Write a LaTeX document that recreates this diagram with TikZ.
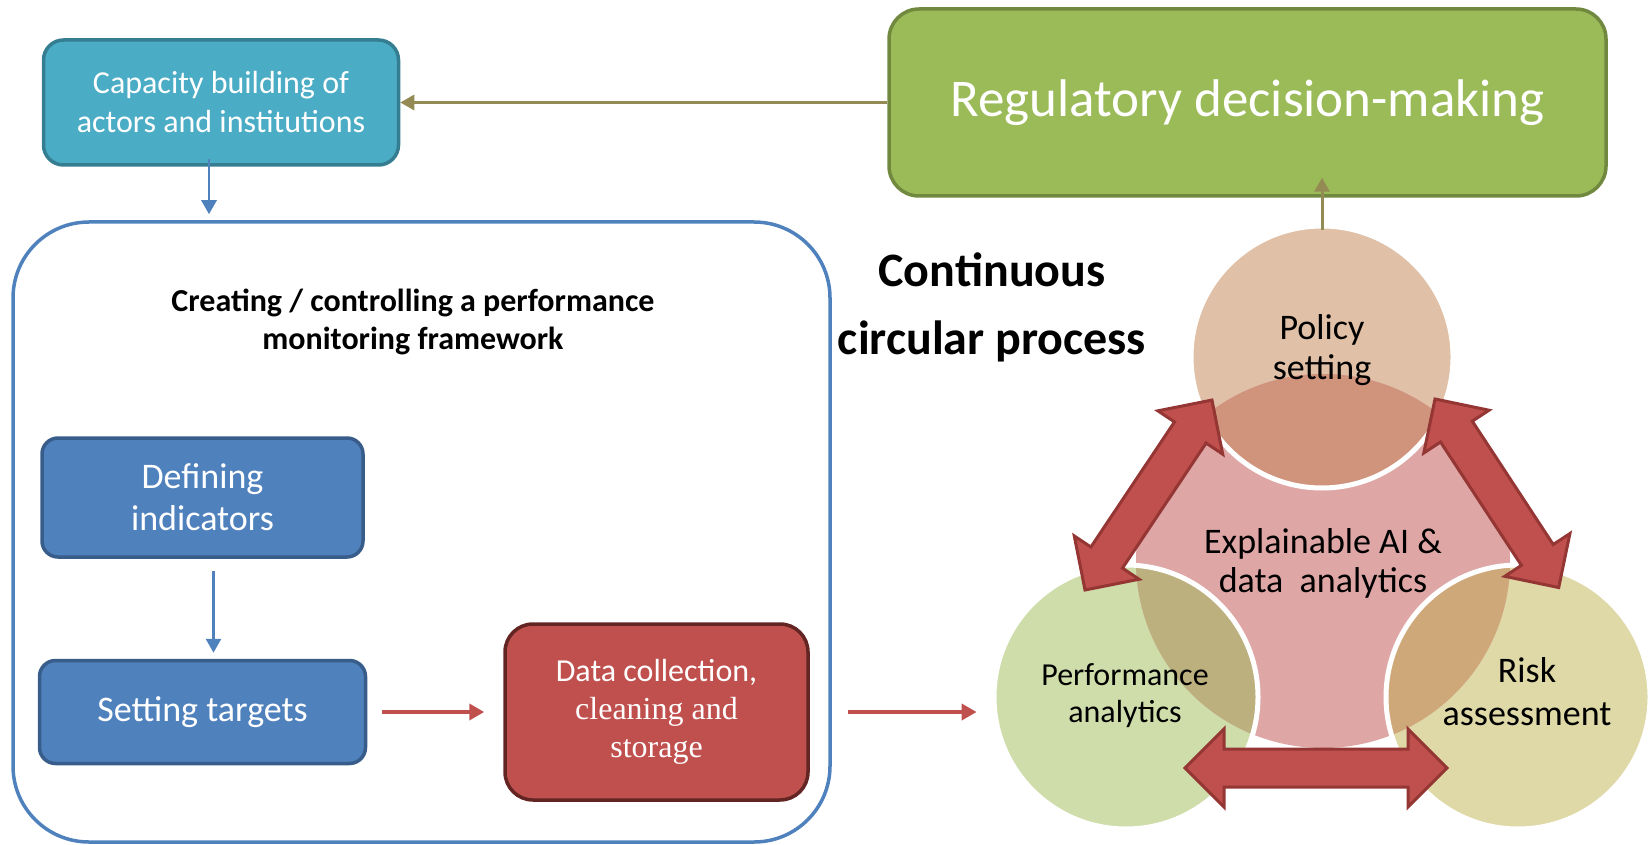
\documentclass[tikz,border=0pt]{standalone}
\usepackage{fontspec}
\setmainfont{Carlito}
\newfontfamily\timesfont{Liberation Serif}
\usetikzlibrary{arrows.meta,positioning,calc}
\definecolor{Teal}{HTML}{4BACC6}
\definecolor{TealEdge}{HTML}{357D91}
\definecolor{Leaf}{HTML}{9BBB59}
\definecolor{LeafEdge}{HTML}{71893F}
\definecolor{Blue}{HTML}{4F81BD}
\definecolor{BlueEdge}{HTML}{385D8A}
\definecolor{Brick}{HTML}{C0504D}
\definecolor{BrickEdge}{HTML}{632523}
\definecolor{ArrowEdge}{HTML}{943634}
\definecolor{Olive}{HTML}{948A54}
\definecolor{Peach}{HTML}{E0C0A6}
\definecolor{PeachDeep}{HTML}{D0947C}
\definecolor{Rose}{HTML}{DFA6A6}
\definecolor{Sage}{HTML}{CEDDAA}
\definecolor{SageDeep}{HTML}{BCB07E}
\definecolor{Sand}{HTML}{DFD8A7}
\definecolor{SandDeep}{HTML}{CFA87A}
\newcommand{\blockarrow}[2]{%
  \path[blockarr] let \p1=($(#2)-(#1)$), \n1={atan2(\y1,\x1)}, \n2={veclen(\x1,\y1)} in
    [shift={(#1)},rotate=\n1]
    (0pt,0pt) -- (19.5pt,19.5pt) -- (19.5pt,9.5pt) -- ({\n2*1pt-19.5pt},9.5pt)
    -- ({\n2*1pt-19.5pt},19.5pt) -- ({\n2*1pt},0pt) -- ({\n2*1pt-19.5pt},-19.5pt)
    -- ({\n2*1pt-19.5pt},-9.5pt) -- (19.5pt,-9.5pt) -- (19.5pt,-19.5pt) -- cycle;%
}

\begin{document}
\begin{tikzpicture}[x=0.5pt,y=-0.5pt,
    box/.style={draw,rounded corners=8pt,line width=1.75pt,text=white,align=center,inner sep=0pt},
    disc/.style={circle,inner sep=0pt},
    ctext/.style={align=center,text=black},
    barrow/.style={-{Triangle[length=7pt,width=7.5pt]},line width=1.4pt,draw=Blue},
    rarrow/.style={-{Triangle[length=7.5pt,width=8pt]},line width=2pt,draw=Brick},
    oarrow/.style={-{Triangle[length=7pt,width=7.5pt]},line width=1.5pt,draw=Olive},
    rim/.style={draw=white,line width=2.5pt},
    blockarr/.style={fill=Brick,draw=ArrowEdge,line width=1.5pt}]
  \useasboundingbox (0,0) rectangle (1648,845);

  % left part
  \node[draw=Blue,line width=1.75pt,rounded corners=38pt,minimum width=408.5pt,minimum height=310pt] (frame) at (421.5,532) {};
  \node[font=\fontsize{16}{19}\selectfont\bfseries,align=center] (frameTitle) at (413,322)
    {Creating / controlling a performance\\monitoring framework};
  \node[box,fill=Teal,draw=TealEdge,rounded corners=10pt,minimum width=177.5pt,minimum height=62.5pt,
    font=\fontsize{16}{19.5}\selectfont] (cap) at (221,102.5) {Capacity building of\\actors and institutions};
  \node[box,fill=Leaf,draw=LeafEdge,rounded corners=15pt,minimum width=358.5pt,minimum height=93.5pt,
    font=\fontsize{26.5}{32}\selectfont,right=243.5pt of cap] (reg) {Regulatory decision-making};
  \node[box,fill=Blue,draw=BlueEdge,minimum width=160.5pt,minimum height=59.5pt,
    font=\fontsize{18}{22}\selectfont] (def) at (202.5,497.5) {Defining\\[-1pt]indicators};
  \node[box,fill=Blue,draw=BlueEdge,minimum width=163pt,minimum height=51.5pt,
    font=\fontsize{18}{22}\selectfont,below=50pt of def] (set) {Setting targets};
  \node[box,fill=Brick,draw=BrickEdge,rounded corners=14pt,minimum width=151.5pt,minimum height=88pt,
    font=\fontsize{16}{19}\selectfont,right=68pt of set] (data)
    {Data collection,\\{\timesfont cleaning and}\\{\timesfont storage}};
  \node[font=\fontsize{24}{34}\selectfont\bfseries,align=center] (cyc) at (992,307.5)
    {Continuous\\circular process};

  % circles
  \node[disc,fill=Peach,minimum size=131pt] (policy) at (1322,357) {};
  \node[disc,fill=Sage,minimum size=132pt] (perf) at (1126,697) {};
  \node[disc,fill=Sand,minimum size=132pt] (risk) at (1518,697) {};
  \node[disc,fill=Rose,minimum size=187pt] (core) at (1323,561) {};
  \begin{scope}
    \clip (core.center) circle[radius=93.5pt];
    \fill[PeachDeep] (policy.center) circle[radius=65.5pt];
    \fill[SageDeep] (perf.center) circle[radius=66pt];
    \fill[SandDeep] (risk.center) circle[radius=66pt];
  \end{scope}
  \foreach \c/\r in {policy/65.5pt,perf/66pt,risk/66pt}
    \draw[rim] (\c.center) circle[radius=\r];
  \node[ctext,font=\fontsize{18}{20}\selectfont] (policyTxt) at (1322,350) {Policy\\setting};
  \node[ctext,font=\fontsize{18}{19.5}\selectfont] (coreTxt) at (1323,563) {Explainable AI \&\\data\ \ analytics};
  \node[ctext,font=\fontsize{16}{18.5}\selectfont] (perfTxt) at (1125,696) {Performance\\analytics};
  \node[ctext,font=\fontsize{18}{21.5}\selectfont] (riskTxt) at (1527,692) {Risk\\assessment};

  % block arrows between the circles
  \coordinate (lA) at (1085,590);
  \coordinate (lB) at (1212,400);
  \coordinate (rA) at (1435,399);
  \coordinate (rB) at (1559,588);
  \coordinate (bA) at (1185,768);
  \coordinate (bB) at (1447,768);
  \blockarrow{lA}{lB}
  \blockarrow{rA}{rB}
  \blockarrow{bA}{bB}

  % connectors
  \coordinate (capfoot) at ([xshift=-6pt]cap.south);
  \draw[barrow,shorten <=-4pt,shorten >=3pt] (capfoot) -- (capfoot |- frame.north);
  \coordinate (deffoot) at ([xshift=5.5pt]def.south);
  \draw[barrow,shorten <=6pt,shorten >=3pt] (deffoot) -- (deffoot |- set.north);
  \draw[rarrow,shorten <=7.5pt,shorten >=9.5pt] (set) -- (data);
  \draw[rarrow,shorten <=8pt,shorten >=8.5pt] (frame.east |- data) -- (perf.west |- data);
  \draw[oarrow] (reg) -- (cap);
  \draw[oarrow] ([yshift=-2pt]policy.north) -- ($(policy.north |- reg.south)+(0,-20)$);
\end{tikzpicture}
\end{document}
